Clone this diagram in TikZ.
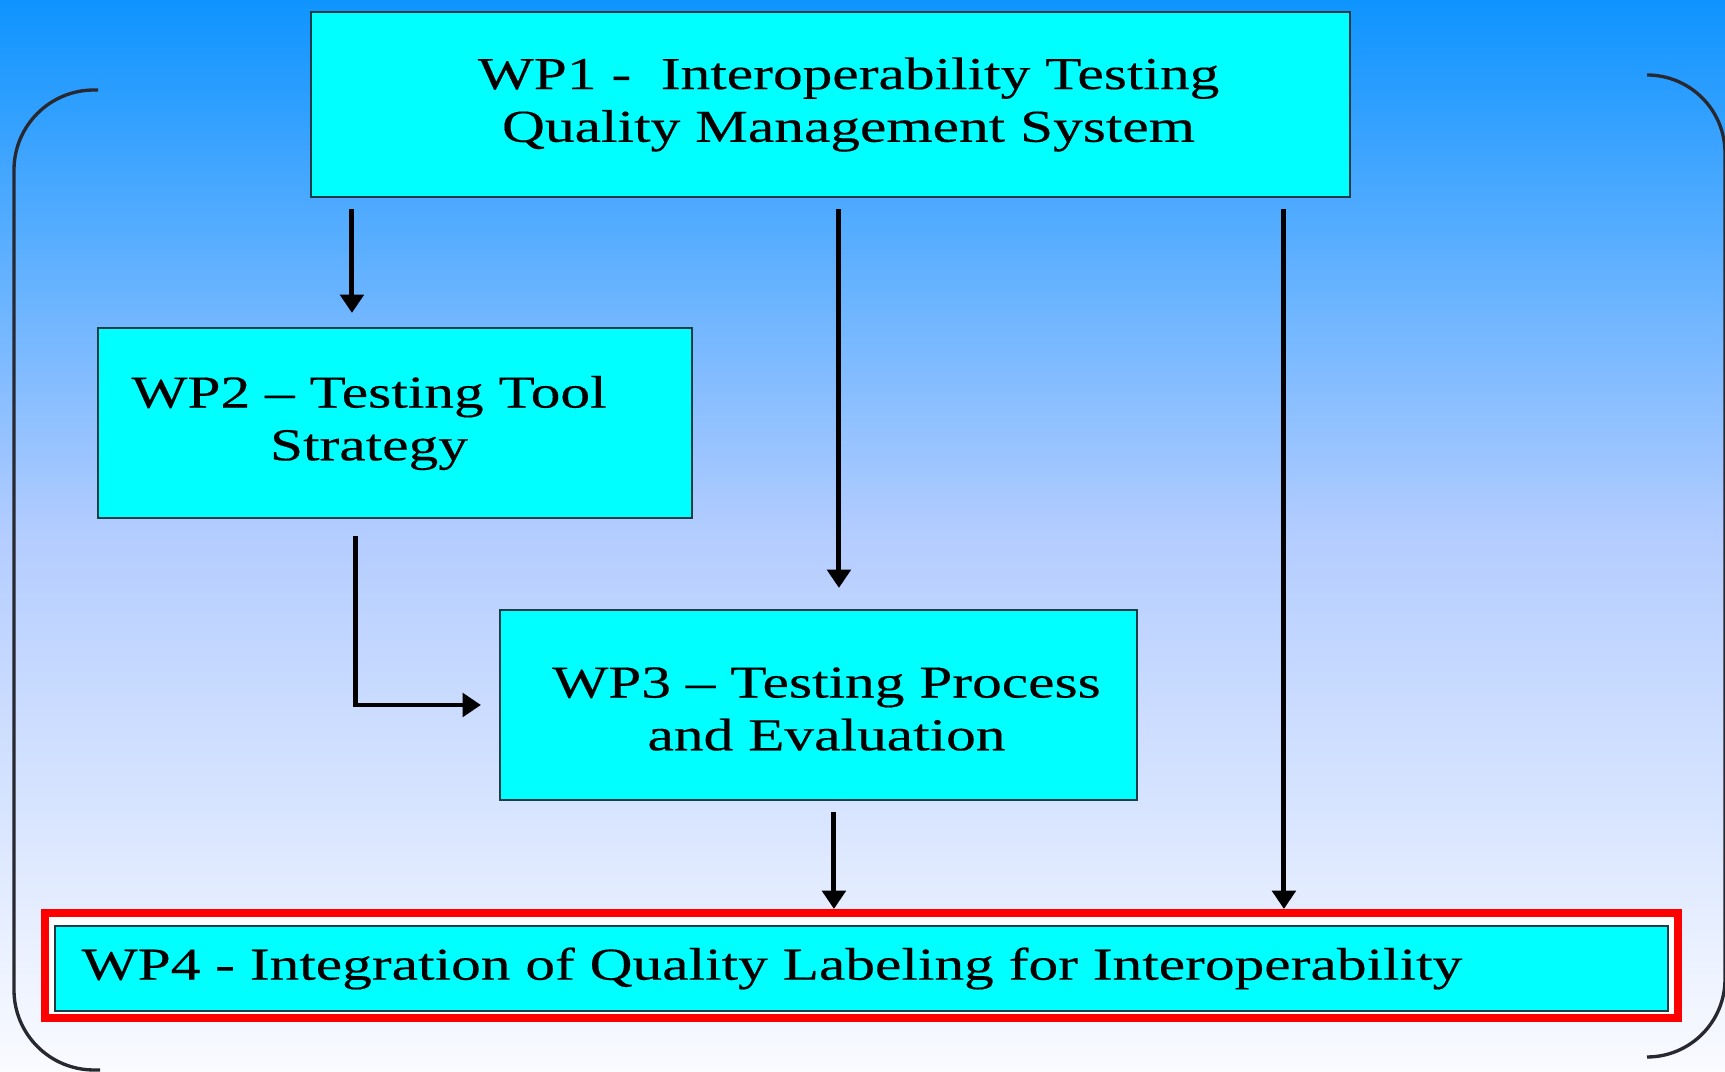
\documentclass[tikz,border=0pt]{standalone}
\usepackage{fontspec}
\setmainfont{Liberation Serif}[FakeStretch=1.3, FakeBold=0.3]
\usetikzlibrary{arrows.meta}
\definecolor{bgtop}{RGB}{14,148,255}
\definecolor{bgmid}{RGB}{180,205,255}
\definecolor{bgbot}{RGB}{250,251,255}
\definecolor{boxcyan}{RGB}{0,255,255}
\definecolor{boxedge}{RGB}{30,60,70}
\definecolor{bracketgray}{RGB}{40,40,48}
\tikzset{
    wpbox/.style={rectangle, draw=boxedge, fill=boxcyan, line width=0.6pt},
    wptext/.style={align=center, font=\fontsize{13}{15}\selectfont, inner sep=0pt},
    redframe/.style={rectangle, draw=red, fill=white, line width=0.08cm},
    arrow/.style={-{Triangle[width=6.6pt,length=5.2pt]}, line width=1.4pt},
    bracket/.style={draw=bracketgray, line width=0.95pt, rounded corners=0.8cm}
}

\begin{document}
\begin{tikzpicture}
    % background
    \useasboundingbox (0,0) rectangle (17.25,-10.72);
    \shade[top color=bgtop, bottom color=bgbot, middle color=bgmid] (0,0) rectangle (17.25,-10.72);

    % brackets
    \draw[bracket] (0.98,-0.90) -- (0.14,-0.90) -- (0.14,-10.70) -- (1.00,-10.70);
    \draw[bracket, rounded corners=0.78cm] (16.47,-0.75) -- (17.25,-0.75) -- (17.25,-10.57) -- (16.47,-10.57);

    % WP1 box
    \node[wpbox, minimum width=10.39cm, minimum height=1.85cm] (wp1) at (8.305,-1.045) {};
    \node[wptext, xshift=0.18cm] (wp1text) at (wp1) {WP1 -\ \ Interoperability Testing\\Quality Management System};

    % WP2 box
    \node[wpbox, minimum width=5.94cm, minimum height=1.90cm] (wp2) at (3.95,-4.23) {};
    \node[wptext, xshift=-0.26cm] (wp2text) at (wp2) {WP2 -- Testing Tool\\Strategy};

    % WP3 box
    \node[wpbox, minimum width=6.37cm, minimum height=1.90cm] (wp3) at (8.185,-7.05) {};
    \node[wptext, xshift=0.08cm, yshift=-0.04cm] (wp3text) at (wp3) {WP3 -- Testing Process\\and Evaluation};

    % WP4 box in red frame
    \node[redframe, minimum width=16.33cm, minimum height=1.05cm] (wp4frame) at (8.615,-9.655) {};
    \node[wpbox, minimum width=16.13cm, minimum height=0.85cm] (wp4) at (8.615,-9.685) {};
    \node[wptext, anchor=west] (wp4text) at ([xshift=0.27cm]wp4.west) {WP4 - Integration of Quality Labeling for Interoperability};

    % arrows
    \draw[arrow, shorten <=0.11cm, shorten >=0.14cm] ([xshift=0.42cm]wp1.south west) -- ([xshift=0.42cm]wp1.south west |- wp2.north);
    \draw[arrow, shorten <=0.11cm, shorten >=0.21cm] ([xshift=5.29cm]wp1.south west) -- ([xshift=5.29cm]wp1.south west |- wp3.north);
    \draw[arrow, shorten <=0.11cm] ([xshift=9.74cm]wp1.south west) -- ([xshift=9.74cm]wp1.south west |- wp4frame.north);
    \draw[arrow, shorten <=0.17cm, shorten >=0.18cm] ([xshift=2.59cm]wp2.south west) |- (wp3.west);
    \draw[arrow, shorten <=0.11cm] ([xshift=3.35cm]wp3.south west) -- ([xshift=3.35cm]wp3.south west |- wp4frame.north);
\end{tikzpicture}
\end{document}
